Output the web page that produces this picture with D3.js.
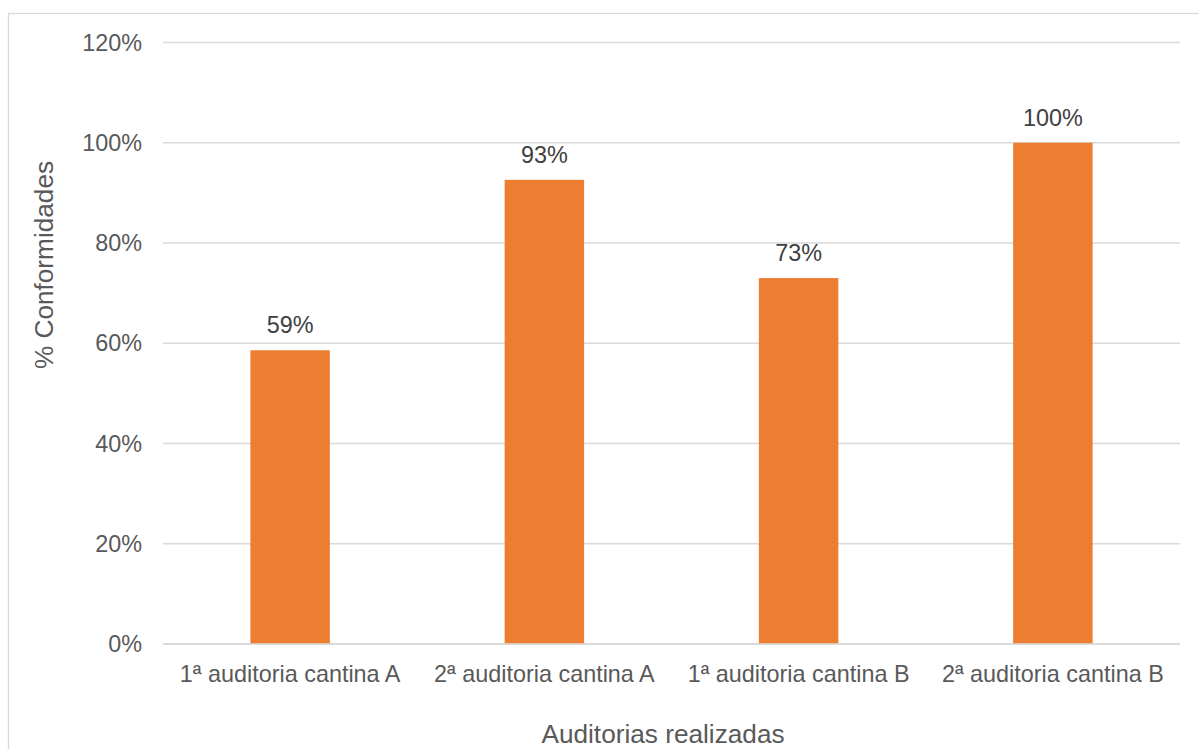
<!DOCTYPE html>
<html>
<head>
<meta charset="utf-8">
<script src="https://cdn.jsdelivr.net/npm/d3@7/dist/d3.min.js"></script>
<style>
  html, body { margin: 0; padding: 0; background: #fff; }
  svg { display: block; font-family: "Liberation Sans", Arial, sans-serif; }
</style>
</head>
<body>
<svg id="chart" width="1199" height="749"></svg>
<script>
// Audit results per canteen
const categories = [
  "1ª auditoria cantina A",
  "2ª auditoria cantina A",
  "1ª auditoria cantina B",
  "2ª auditoria cantina B"
];
const conformity = [0.586, 0.926, 0.73, 1.0];
const yTicks = [0, 0.2, 0.4, 0.6, 0.8, 1.0, 1.2];
const yTitle = "% Conformidades";
const xTitle = "Auditorias realizadas";

const svg = d3.select("#chart");
const W = 1199, H = 749;
const plot = { left: 163, right: 1180, top: 42.5, bottom: 644 };

// Chart area frame
svg.append("rect")
  .attr("x", 8.5).attr("y", 13.5)
  .attr("width", W + 20).attr("height", H + 20)
  .attr("fill", "#fff")
  .attr("stroke", "#d9d9d9").attr("stroke-width", 1.3);

const x = d3.scaleBand()
  .domain(categories)
  .range([plot.left, plot.right])
  .paddingInner(0.6875)
  .paddingOuter(0.34375);

const y = d3.scaleLinear()
  .domain([0, 1.2])
  .range([plot.bottom, plot.top]);

const pct = d3.format(".0%");

// Horizontal gridlines
svg.append("g")
  .selectAll("line")
  .data(yTicks)
  .join("line")
  .attr("x1", plot.left).attr("x2", plot.right)
  .attr("y1", d => y(d)).attr("y2", d => y(d))
  .attr("stroke", "#d9d9d9").attr("stroke-width", 1.3);

// Y axis labels
const yAxis = svg.append("g")
  .attr("transform", `translate(${plot.left},0)`)
  .call(d3.axisLeft(y).tickValues(yTicks).tickFormat(pct).tickSize(0).tickPadding(21));
yAxis.select(".domain").remove();
yAxis.selectAll("text")
  .attr("fill", "#595959")
  .style("font-size", "23.4px")
  .style("font-family", "'Liberation Sans', Arial, sans-serif");

// Bars
svg.append("g")
  .selectAll("rect")
  .data(conformity)
  .join("rect")
  .attr("x", (d, i) => x(categories[i]))
  .attr("y", d => y(d))
  .attr("width", x.bandwidth())
  .attr("height", d => y(0) - y(d))
  .attr("fill", "#ed7d31");

// Baseline drawn over the bars
svg.append("line")
  .attr("x1", plot.left).attr("x2", plot.right)
  .attr("y1", y(0)).attr("y2", y(0))
  .attr("stroke", "#d9d9d9").attr("stroke-width", 1.3);

// Value labels
svg.append("g")
  .selectAll("text")
  .data(conformity)
  .join("text")
  .attr("x", (d, i) => x(categories[i]) + x.bandwidth() / 2)
  .attr("y", d => y(d) - 17)
  .attr("text-anchor", "middle")
  .attr("fill", "#404040")
  .style("font-size", "23.4px")
  .text(d => pct(d));

// Category labels
const xAxis = svg.append("g")
  .attr("transform", `translate(0,${plot.bottom})`)
  .call(d3.axisBottom(x).tickSize(0).tickPadding(21));
xAxis.select(".domain").remove();
xAxis.selectAll("text")
  .attr("fill", "#595959")
  .style("font-size", "23.4px")
  .style("font-family", "'Liberation Sans', Arial, sans-serif");

// Axis titles
svg.append("text")
  .attr("transform", "translate(53,265) rotate(-90)")
  .attr("text-anchor", "middle")
  .attr("fill", "#595959")
  .style("font-size", "26.2px")
  .text(yTitle);

svg.append("text")
  .attr("x", 663).attr("y", 743)
  .attr("text-anchor", "middle")
  .attr("fill", "#595959")
  .style("font-size", "26.2px")
  .text(xTitle);
</script>
</body>
</html>
